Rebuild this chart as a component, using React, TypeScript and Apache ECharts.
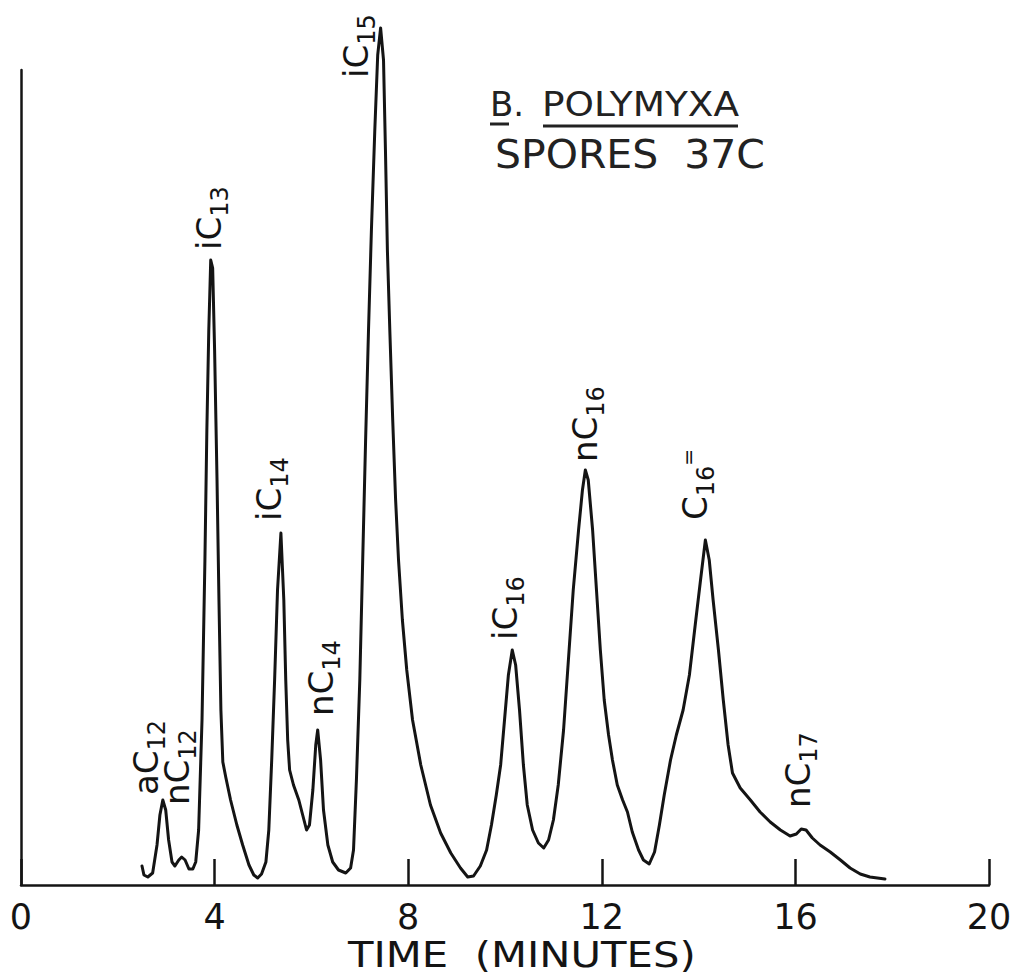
import React, { useEffect, useRef } from 'react';
import * as echarts from 'echarts';

// ---------------- DATA ----------------
const timeMin = [
  2.50, 2.54, 2.62, 2.72, 2.81, 2.87, 2.93, 2.99, 3.05, 3.12,
  3.18, 3.26, 3.32, 3.39, 3.47, 3.55, 3.61, 3.67, 3.74, 3.80,
  3.84, 3.88, 3.92, 3.96, 4.00, 4.05, 4.09, 4.13, 4.17, 4.23,
  4.33, 4.46, 4.58, 4.71, 4.81, 4.89, 4.97, 5.06, 5.12, 5.18,
  5.24, 5.30, 5.37, 5.43, 5.47, 5.51, 5.55, 5.63, 5.74, 5.82,
  5.90, 5.96, 6.03, 6.09, 6.13, 6.19, 6.25, 6.34, 6.44, 6.56,
  6.71, 6.81, 6.87, 6.93, 7.00, 7.06, 7.12, 7.18, 7.24, 7.31,
  7.37, 7.43, 7.49, 7.53, 7.57, 7.62, 7.68, 7.74, 7.80, 7.88,
  7.97, 8.09, 8.26, 8.46, 8.67, 8.88, 9.08, 9.23, 9.35, 9.49,
  9.62, 9.72, 9.82, 9.91, 9.99, 10.07, 10.15, 10.22, 10.30, 10.38,
  10.46, 10.57, 10.69, 10.80, 10.90, 11.00, 11.10, 11.21, 11.31, 11.41,
  11.52, 11.60, 11.66, 11.72, 11.81, 11.89, 11.97, 12.05, 12.14, 12.22,
  12.32, 12.43, 12.53, 12.63, 12.76, 12.86, 12.98, 13.09, 13.19, 13.29,
  13.42, 13.54, 13.68, 13.81, 13.93, 14.04, 14.14, 14.22, 14.30, 14.41,
  14.51, 14.61, 14.70, 14.86, 15.07, 15.27, 15.48, 15.69, 15.89, 16.02,
  16.12, 16.22, 16.35, 16.51, 16.72, 16.93, 17.13, 17.34, 17.54, 17.85,
];

const response = [
  19, 10, 8, 12, 40, 70, 85, 75, 45, 23,
  19, 25, 28, 25, 16, 16, 23, 55, 165, 325,
  455, 555, 625, 617, 535, 405, 285, 175, 123, 108,
  85, 60, 40, 20, 10, 7, 11, 23, 55, 125,
  205, 295, 352, 285, 205, 145, 115, 100, 85, 70,
  55, 60, 95, 140, 155, 125, 75, 40, 23, 15,
  12, 17, 35, 105, 205, 325, 445, 555, 655, 755,
  830, 857, 825, 735, 635, 555, 465, 385, 325, 265,
  215, 165, 120, 80, 52, 32, 17, 8, 9, 19,
  35, 60, 90, 120, 165, 210, 235, 220, 175, 120,
  80, 55, 42, 37, 45, 65, 100, 155, 225, 295,
  355, 395, 415, 405, 355, 295, 235, 185, 150, 125,
  100, 85, 73, 53, 35, 25, 21, 33, 60, 90,
  125, 150, 175, 210, 260, 305, 345, 325, 285, 235,
  185, 140, 112, 97, 85, 73, 63, 55, 49, 51,
  56, 55, 47, 40, 33, 25, 17, 11, 8, 6,
];

const xTickLabels = ['0', '4', '8', '12', '16', '20'];

const peakMain = ['aC', 'nC', 'iC', 'iC', 'nC', 'iC', 'iC', 'nC', 'C', 'nC'];
const peakSub = ['12', '12', '13', '14', '14', '15', '16', '16', '16', '17'];
const peakSup = ['', '', '', '', '', '', '', '', '=', ''];
const peakTime = [2.93, 3.32, 3.92, 5.37, 6.13, 7.43, 10.15, 11.66, 14.14, 16.12];
const peakResp = [85, 28, 625, 352, 155, 857, 235, 415, 345, 56];

const titleInitial = 'B.';
const titleWord = 'POLYMYXA';
const subtitleText = 'SPORES  37C';
const xAxisTitle = 'TIME  (MINUTES)';

// ---------------- STYLE ----------------
const INK = '#141414';
const TITLE_INK = '#222222';
const FONT = '"DejaVu Sans", "Liberation Sans", sans-serif';
// pixel shift of each rotated label's anchor from its peak
const labelShift = [
  [-14, -5], [-2, -52], [1, -10], [-9, -12], [6, -14],
  [-22, 50], [-4, -10], [3, -8], [-7, -20], [0, -21],
];

export default function App() {
  const ref = useRef<HTMLDivElement>(null);

  useEffect(() => {
    if (!ref.current) return;
    const chart = echarts.init(ref.current, null, { renderer: 'svg' });

    const option: any = {
      animation: false,
      backgroundColor: '#ffffff',
      grid: { left: 21, right: 26, top: 70, bottom: 92, outerBoundsMode: 'none' },
      xAxis: {
        type: 'value',
        min: 0,
        max: 20,
        interval: 4,
        axisLine: { show: true, onZero: false, lineStyle: { color: INK, width: 2.5 } },
        axisTick: { show: true, inside: true, length: 26, lineStyle: { color: INK, width: 2.5 } },
        axisLabel: {
          show: true,
          fontSize: 35,
          fontFamily: FONT,
          color: INK,
          margin: 14,
          formatter: (v: number) => xTickLabels[Math.round(v / 4)] ?? '',
        },
        splitLine: { show: false },
      },
      yAxis: {
        type: 'value',
        min: 0,
        max: 815,
        axisLine: { show: true, onZero: false, lineStyle: { color: INK, width: 2.5 } },
        axisTick: { show: false },
        axisLabel: { show: false },
        splitLine: { show: false },
      },
      series: [
        {
          type: 'line',
          data: timeMin.map((t, i) => [t, response[i]]),
          showSymbol: false,
          symbol: 'none',
          clip: false,
          smooth: false,
          lineStyle: { color: INK, width: 3, join: 'round', cap: 'round' },
        },
      ],
    };
    chart.setOption(option);

    const rich = {
      m: { font: `34px ${FONT}`, fill: INK, height: 34, verticalAlign: 'top' },
      s: { font: `24px ${FONT}`, fill: INK, height: 24, lineHeight: 40, verticalAlign: 'bottom' },
      p: { font: `20px ${FONT}`, fill: INK, height: 20, verticalAlign: 'top' },
    };

    const labelEls = peakTime.map((t, i) => {
      const [px, py] = chart.convertToPixel({ xAxisIndex: 0, yAxisIndex: 0 }, [t, peakResp[i]]) as number[];
      const sup = peakSup[i] ? `{p|${peakSup[i]}}` : '';
      return {
        type: 'text',
        x: px + labelShift[i][0],
        y: py + labelShift[i][1],
        rotation: Math.PI / 2,
        z: 100,
        style: {
          text: `{m|${peakMain[i]}}{s|${peakSub[i]}}${sup}`,
          rich,
          font: `34px ${FONT}`,
          fill: INK,
          align: 'left',
          verticalAlign: 'middle',
        },
      };
    });

    const titleEls = [
      {
        type: 'text', x: 490, y: 104, z: 100,
        style: { text: titleInitial, font: `34px ${FONT}`, fill: TITLE_INK, align: 'left', verticalAlign: 'middle' },
      },
      {
        type: 'text', x: 542, y: 104, scaleX: 1.1, z: 100,
        style: { text: titleWord, font: `34px ${FONT}`, fill: TITLE_INK, align: 'left', verticalAlign: 'middle' },
      },
      { type: 'line', z: 100, shape: { x1: 490, y1: 124, x2: 509, y2: 124 }, style: { stroke: TITLE_INK, lineWidth: 3 } },
      { type: 'line', z: 100, shape: { x1: 543, y1: 126, x2: 738, y2: 126 }, style: { stroke: TITLE_INK, lineWidth: 3 } },
      {
        type: 'text', x: 495, y: 154, scaleX: 1.05, z: 100,
        style: { text: subtitleText, font: `39px ${FONT}`, fill: TITLE_INK, align: 'left', verticalAlign: 'middle' },
      },
      {
        type: 'text', x: 348, y: 955, scaleX: 1.16, z: 100,
        style: { text: xAxisTitle, font: `36px ${FONT}`, fill: INK, align: 'left', verticalAlign: 'middle' },
      },
    ];

    chart.setOption({ graphic: { elements: [...titleEls, ...labelEls] } });

    return () => chart.dispose();
  }, []);

  return (
    <div
      ref={ref}
      style={{ position: 'fixed', left: 0, top: 0, width: 1015, height: 977, background: '#fff' }}
    />
  );
}
